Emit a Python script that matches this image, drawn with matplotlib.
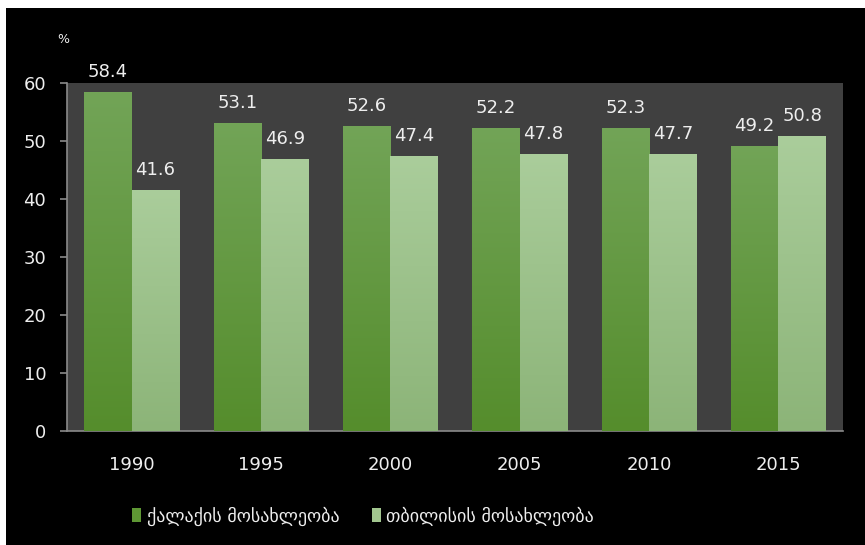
import matplotlib.pyplot as plt
import numpy as np
from matplotlib.colors import LinearSegmentedColormap
from matplotlib.patches import Rectangle

years = ['1990', '1995', '2000', '2005', '2010', '2015']
city_pop = [58.4, 53.1, 52.6, 52.2, 52.3, 49.2]
tbilisi_pop = [41.6, 46.9, 47.4, 47.8, 47.7, 50.8]
series_names = ['ქალაქის მოსახლეობა', 'თბილისის მოსახლეობა']

text_col = '#eeeeee'
axis_col = '#8a8a8a'

fig = plt.figure(figsize=(8.65, 5.45), dpi=100, facecolor='white')
# black card, leaving a thin white strip on top and left
fig.patches.append(Rectangle((6 / 865, 0), 1, 537 / 545, transform=fig.transFigure,
                             facecolor='black', edgecolor='none', zorder=-10))

ax = fig.add_axes([67 / 865, (545 - 431) / 545, (843 - 67) / 865, (431 - 83) / 545])
ax.set_facecolor('#404040')

x = np.arange(len(years))
w = 0.367
bars1 = ax.bar(x - w / 2, city_pop, w, color='#5e9734', label=series_names[0], zorder=2)
bars2 = ax.bar(x + w / 2, tbilisi_pop, w, color='#a2c68f', label=series_names[1], zorder=2)

# vertical gradient inside each bar
dark_cmap = LinearSegmentedColormap.from_list('dk', ['#558d2c', '#72a457'])
light_cmap = LinearSegmentedColormap.from_list('lt', ['#8cb478', '#aacd9b'])
grad = np.linspace(0, 1, 256).reshape(-1, 1)
for bars, cmap in ((bars1, dark_cmap), (bars2, light_cmap)):
    for r in bars:
        x0, h, bw = r.get_x(), r.get_height(), r.get_width()
        im = ax.imshow(grad, extent=[x0, x0 + bw, 0, h], origin='lower',
                       aspect='auto', cmap=cmap, zorder=3)
        im.set_clip_path(r)

for bars, vals in ((bars1, city_pop), (bars2, tbilisi_pop)):
    for r, v in zip(bars, vals):
        ax.annotate(f'{v:.1f}', (r.get_x() + r.get_width() / 2, v),
                    xytext=(0, 8), textcoords='offset points',
                    ha='center', va='bottom', color=text_col, fontsize=13, zorder=4)

ax.set_xlim(-0.5, len(years) - 0.5)
ax.set_ylim(0, 60)
ax.set_yticks(range(0, 61, 10))
ax.set_xticks(x)
ax.set_xticklabels(years)

for s in ('top', 'right'):
    ax.spines[s].set_visible(False)
for s in ('left', 'bottom'):
    ax.spines[s].set_color(axis_col)
    ax.spines[s].set_linewidth(1.2)
ax.tick_params(axis='y', colors=axis_col, length=5, width=1.2, pad=10,
               labelcolor=text_col, labelsize=13)
ax.tick_params(axis='x', length=0, pad=18, labelcolor=text_col, labelsize=13)

fig.text(57 / 865, 1 - 39 / 545, '%', color=text_col, fontsize=9, ha='left', va='center')

leg = fig.legend(handles=[bars1, bars2], labels=series_names, loc='center',
                 bbox_to_anchor=(363 / 865, 1 - 516 / 545), ncol=2, frameon=False,
                 handlelength=0.5, handleheight=0.8, handletextpad=0.3,
                 columnspacing=1.8, fontsize=13)
for t in leg.get_texts():
    t.set_color(text_col)

fig.savefig('out.png', dpi=100, facecolor=fig.get_facecolor())
